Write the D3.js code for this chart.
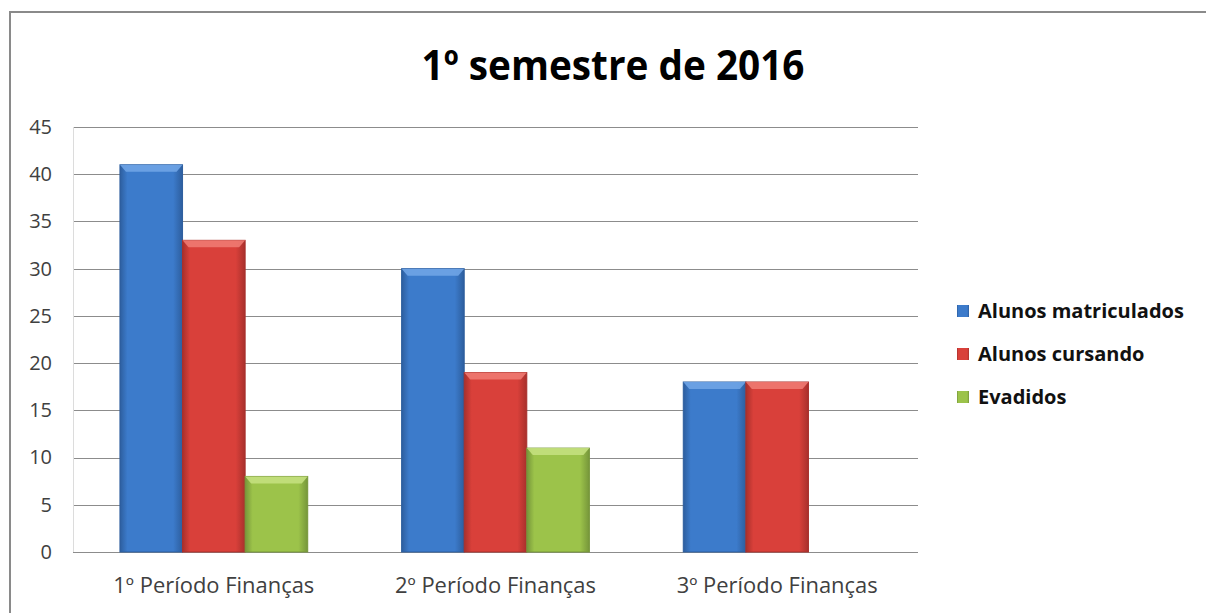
<!DOCTYPE html>
<html>
<head>
<meta charset="utf-8">
<script src="https://cdn.jsdelivr.net/npm/d3@7"></script>
<style>
  body { margin: 0; background: #fff; }
  text { font-family: "Open Sans", "DejaVu Sans", sans-serif; }
</style>
</head>
<body>
<svg id="chart"></svg>
<script>
var width = 1206,
    height = 613;

// Chart data
var categories = ['1º Período Finanças', '2º Período Finanças', '3º Período Finanças'];
var seriesNames = ['Alunos matriculados', 'Alunos cursando', 'Evadidos'];
var matriculados = [41, 30, 18];
var cursando = [33, 19, 18];
var evadidos = [8, 11, 0];
var yTicks = [0, 5, 10, 15, 20, 25, 30, 35, 40, 45];

var seriesValues = [matriculados, cursando, evadidos];
var colors = [
    { mid: '#3C7BCB', edge: '#2D5E9E', top: '#6FA4E6' },
    { mid: '#D9403A', edge: '#A8302C', top: '#EE7A72' },
    { mid: '#9CC34A', edge: '#76963A', top: '#C4E07E' }
];

var margin = { left: 73, right: 288, top: 127, bottom: 61 };

var svg = d3.select('#chart')
    .attr('width', width)
    .attr('height', height);

// Outer frame (left and top edges visible)
svg.append('path')
    .attr('d', 'M10,' + height + 'V12H' + width)
    .attr('fill', 'none')
    .attr('stroke', '#8a8a8a')
    .attr('stroke-width', 2);

var defs = svg.append('defs');
colors.forEach(function (c, i) {
    var g = defs.append('linearGradient').attr('id', 'grad' + i)
        .attr('x1', 0).attr('x2', 1).attr('y1', 0).attr('y2', 0);
    g.append('stop').attr('offset', '0%').attr('stop-color', c.edge);
    g.append('stop').attr('offset', '12%').attr('stop-color', c.mid);
    g.append('stop').attr('offset', '85%').attr('stop-color', c.mid);
    g.append('stop').attr('offset', '100%').attr('stop-color', c.edge);
});

var x0 = d3.scaleBand()
    .domain(categories)
    .range([margin.left, width - margin.right])
    .paddingInner(1 / 3)
    .paddingOuter(1 / 6);

var x1 = d3.scaleBand()
    .domain(d3.range(seriesNames.length))
    .range([0, x0.bandwidth()]);

var y = d3.scaleLinear()
    .domain([0, 45])
    .range([height - margin.bottom, margin.top]);

// Gridlines
svg.append('g')
    .selectAll('line')
    .data(yTicks)
    .enter().append('line')
    .attr('x1', margin.left)
    .attr('x2', width - margin.right)
    .attr('y1', function (d) { return Math.round(y(d)) + 0.5; })
    .attr('y2', function (d) { return Math.round(y(d)) + 0.5; })
    .attr('stroke', '#8c8c8c')
    .attr('stroke-width', 1);

// Left edge of plot area
svg.append('line')
    .attr('x1', margin.left + 0.5).attr('x2', margin.left + 0.5)
    .attr('y1', y(45)).attr('y2', y(0))
    .attr('stroke', '#dcdcdc');

// Y axis labels
var yAxis = d3.axisLeft(y).tickValues(yTicks).tickSize(0).tickPadding(21);
var yg = svg.append('g')
    .attr('transform', 'translate(' + margin.left + ',0)')
    .call(yAxis);
yg.select('.domain').remove();
yg.selectAll('text')
    .style('font-size', '20px')
    .attr('fill', '#404040')
    .attr('font-family', '"Open Sans", sans-serif');

// X axis labels
var xAxis = d3.axisBottom(x0).tickSize(0).tickPadding(26);
var xg = svg.append('g')
    .attr('transform', 'translate(0,' + y(0) + ')')
    .call(xAxis);
xg.select('.domain').remove();
xg.selectAll('text')
    .style('font-size', '21px')
    .attr('fill', '#404040')
    .attr('font-family', '"Open Sans", sans-serif')
    .attr('textLength', 201)
    .attr('lengthAdjust', 'spacingAndGlyphs');

// Bars
var groups = svg.append('g')
    .selectAll('g')
    .data(categories)
    .enter().append('g')
    .attr('transform', function (d) { return 'translate(' + x0(d) + ',0)'; });

groups.selectAll('g.bar')
    .data(function (d, ci) {
        return seriesValues.map(function (vals, si) { return { s: si, v: vals[ci] }; });
    })
    .enter().filter(function (d) { return d.v > 0; })
    .append('g')
    .attr('class', 'bar')
    .each(function (d) {
        var g = d3.select(this);
        var bx = x1(d.s), bw = x1.bandwidth();
        var by = y(d.v), bh = y(0) - y(d.v);
        g.append('rect')
            .attr('x', bx).attr('y', by)
            .attr('width', bw).attr('height', bh)
            .attr('fill', 'url(#grad' + d.s + ')')
            .attr('stroke', colors[d.s].edge)
            .attr('stroke-width', 1);
        // top bevel
        g.append('path')
            .attr('d', 'M' + bx + ',' + by + 'H' + (bx + bw) + 'L' + (bx + bw - 6) + ',' + (by + 7) + 'H' + (bx + 6) + 'Z')
            .attr('fill', colors[d.s].top)
            .attr('opacity', 0.9);
    });

// Title
svg.append('text')
    .attr('x', 613)
    .attr('y', 80)
    .attr('text-anchor', 'middle')
    .style('font-size', '42px')
    .style('font-weight', 'bold')
    .attr('fill', '#000')
    .attr('textLength', 383)
    .attr('lengthAdjust', 'spacingAndGlyphs')
    .text('1º semestre de 2016');

// Legend
var legendWidths = [212, 170, 88];
var legend = svg.append('g')
    .selectAll('g')
    .data(seriesNames)
    .enter().append('g')
    .attr('transform', function (d, i) { return 'translate(957,' + (311 + i * 43) + ')'; });

legend.append('rect')
    .attr('x', 0).attr('y', -6)
    .attr('width', 12).attr('height', 12)
    .attr('fill', function (d, i) { return 'url(#grad' + i + ')'; });

legend.append('text')
    .attr('x', 21)
    .attr('dy', '0.35em')
    .style('font-size', '20px')
    .style('font-weight', 'bold')
    .attr('fill', '#111')
    .text(function (d) { return d; });
</script>
</body>
</html>
